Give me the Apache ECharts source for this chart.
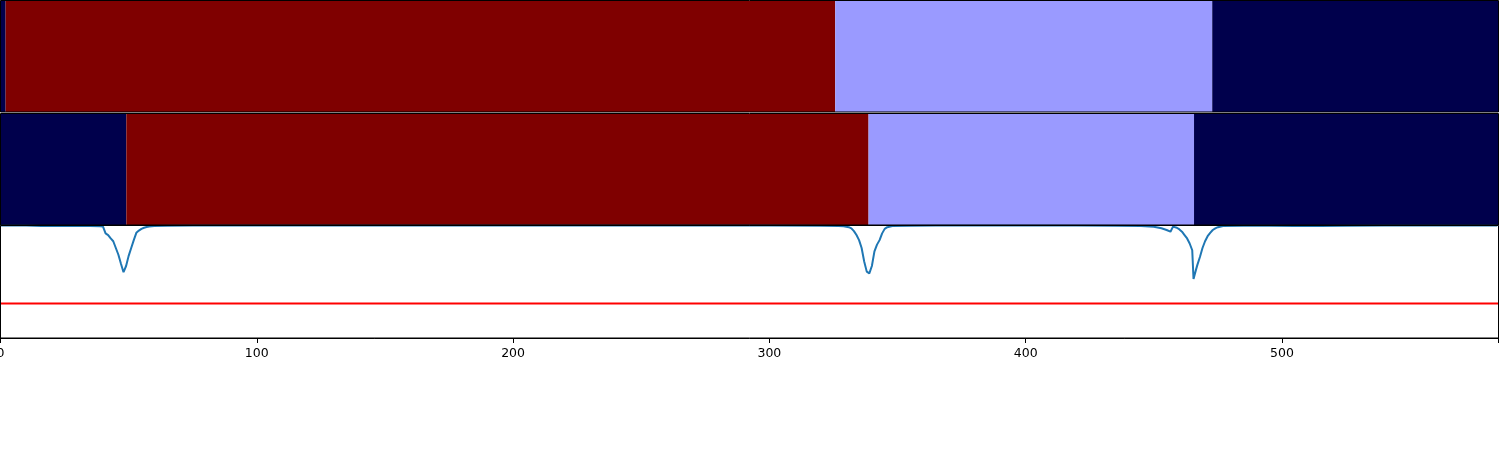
<!DOCTYPE html>
<html>
<head>
<meta charset="utf-8">
<script src="https://cdn.jsdelivr.net/npm/echarts@6/dist/echarts.min.js"></script>
<style>
  html, body { margin: 0; padding: 0; background: #fff; }
  #chart { width: 1500px; height: 450px; }
</style>
</head>
<body>
<div id="chart"></div>
<script>
// ---- data ----
const xMin = 0;
const xMax = 584.5;
const xTicks = [0, 100, 200, 300, 400, 500];

// class codes: 0 = low, 1 = mid, 2 = high
// top strip: segment boundaries and classes
const topBounds = [0, 2, 325.7, 472.8, 584.5];
const topClasses = [0, 2, 1, 0];

// second strip
const midBounds = [0, 49.1, 338.7, 465.7, 584.5];
const midClasses = [0, 2, 1, 0];

// bottom panel line
const lineX = [0, 10, 16, 25, 35, 39, 40, 41, 42, 43, 44, 45, 46, 47, 48, 49, 50, 51, 52, 53, 54, 55, 56, 57, 58, 60, 65, 75,
  150, 250, 300, 320, 327, 329, 331, 332, 333, 334, 335, 336, 337, 338, 339, 340, 341, 342, 343, 344, 345, 346, 348, 355, 365,
  420, 435, 445, 450, 453, 455, 456.5, 457.5, 459, 460, 461, 462, 463, 464, 465, 465.5, 466.5, 467, 468, 469, 470, 471, 472, 473, 474, 475, 477, 485, 495, 505, 515, 525, 540, 584];
const lineY = [1.0, 1.0, 0.996, 0.995, 0.995, 0.994, 0.99, 0.93, 0.915, 0.885, 0.86, 0.80, 0.74, 0.66, 0.585, 0.64, 0.73, 0.80, 0.87, 0.935, 0.955, 0.97, 0.98, 0.987, 0.991, 0.995, 0.998, 1.0,
  1.0, 1.0, 1.0, 0.998, 0.996, 0.994, 0.985, 0.975, 0.95, 0.915, 0.87, 0.80, 0.68, 0.59, 0.575, 0.64, 0.77, 0.83, 0.87, 0.93, 0.97, 0.985, 0.995, 0.998, 1.0,
  1.0, 0.997, 0.995, 0.988, 0.975, 0.96, 0.945, 0.99, 0.98, 0.965, 0.945, 0.915, 0.885, 0.84, 0.78, 0.525, 0.61, 0.65, 0.72, 0.80, 0.86, 0.905, 0.935, 0.96, 0.975, 0.985, 0.995, 0.998, 0.997, 0.995, 0.996, 0.998, 1.0, 1.0];
const redLevel = 0.307;

// ---- styling ----
const classColors = ['#00004c', '#9a9aff', '#7f0000'];

function segData(bounds, classes) {
  const out = [];
  for (let i = 0; i < classes.length; i++) out.push([bounds[i], bounds[i + 1], classes[i]]);
  return out;
}

function renderSeg(params, api) {
  const s = api.value(0), e = api.value(1), c = api.value(2);
  const p0 = api.coord([s, 1]);
  const p1 = api.coord([e, 0]);
  return {
    type: 'rect',
    shape: { x: p0[0], y: p0[1], width: p1[0] - p0[0], height: p1[1] - p0[1] },
    style: { fill: classColors[c] }
  };
}

const font = 'DejaVu Sans';
const chart = echarts.init(document.getElementById('chart'), null, { renderer: 'canvas' });

const hiddenX = (gi) => ({ type: 'value', gridIndex: gi, min: xMin, max: xMax, show: false });
const hiddenY = (gi) => ({ type: 'value', gridIndex: gi, min: 0, max: 1, show: false });
const gridBase = { left: 0.5, width: 1498, show: true, borderColor: '#000', borderWidth: 1, backgroundColor: 'transparent', z: 10, containLabel: false, outerBoundsMode: 'none' };

chart.setOption({
  animation: false,
  backgroundColor: '#ffffff',
  grid: [
    Object.assign({}, gridBase, { top: 0.5, height: 111.5 }),
    Object.assign({}, gridBase, { top: 113.5, height: 111.5 }),
    Object.assign({}, gridBase, { top: 225.5, height: 112.5 })
  ],
  xAxis: [
    hiddenX(0),
    hiddenX(1),
    {
      type: 'value', gridIndex: 2, min: xMin, max: xMax, interval: 100,
      axisLine: { show: true, lineStyle: { color: '#000', width: 1 } },
      axisTick: { show: true, length: 5, lineStyle: { color: '#000', width: 1 } },
      axisLabel: {
        show: true, color: '#000', fontFamily: font, fontSize: 12.5, margin: 9,
        formatter: (v) => (xTicks.indexOf(v) >= 0 ? String(v) : '')
      },
      splitLine: { show: false }
    }
  ],
  yAxis: [hiddenY(0), hiddenY(1), hiddenY(2)],
  series: [
    { type: 'custom', xAxisIndex: 0, yAxisIndex: 0, renderItem: renderSeg, data: segData(topBounds, topClasses), encode: { x: [0, 1] }, clip: true },
    { type: 'custom', xAxisIndex: 1, yAxisIndex: 1, renderItem: renderSeg, data: segData(midBounds, midClasses), encode: { x: [0, 1] }, clip: true },
    {
      type: 'line', xAxisIndex: 2, yAxisIndex: 2, symbol: 'none', smooth: false,
      lineStyle: { color: '#1f77b4', width: 2 },
      data: lineX.map((x, i) => [x, lineY[i]])
    },
    {
      type: 'line', xAxisIndex: 2, yAxisIndex: 2, symbol: 'none',
      lineStyle: { color: '#ff0000', width: 2 },
      data: [[xMin, redLevel], [xMax, redLevel]]
    }
  ]
});
</script>
</body>
</html>
